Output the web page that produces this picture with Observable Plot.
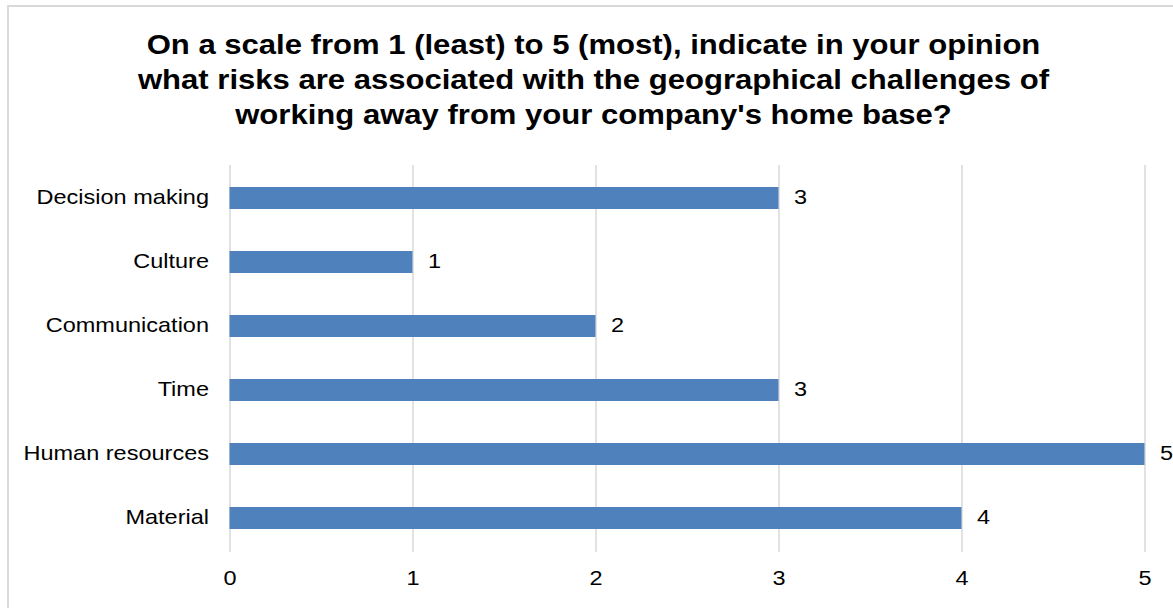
<!DOCTYPE html>
<html>
<head>
<meta charset="utf-8">
<script src="https://cdn.jsdelivr.net/npm/d3@7"></script>
<script src="https://cdn.jsdelivr.net/npm/@observablehq/plot@0.6"></script>
<style>
  html, body { margin: 0; padding: 0; background: #fff; overflow: hidden; width: 1173px; height: 608px; }
  #frame { position: absolute; left: 7px; top: 5px; width: 1200px; height: 700px; border: 2px solid #d9d9d9; box-sizing: border-box; }
  #title { position: absolute; left: 7px; width: 1173px; top: 28px; text-align: center; font-family: "Liberation Sans", Arial, sans-serif; font-weight: bold; font-size: 27px; line-height: 35px; color: #000; transform: scaleX(1.15); transform-origin: 50% 50%; }
  #chart { position: absolute; left: 0; top: 150px; }
</style>
</head>
<body>
<div id="frame"></div>
<div id="title">On a scale from 1 (least) to 5 (most), indicate in your opinion<br>what risks are associated with the geographical challenges of<br>working away from your company's home base?</div>
<div id="chart"></div>
<script>
const categories = ["Decision making", "Culture", "Communication", "Time", "Human resources", "Material"];
const values = [3, 1, 2, 3, 5, 4];
const xTicks = [0, 1, 2, 3, 4, 5];

const data = categories.map((c, i) => ({category: c, value: values[i]}));

const chart = Plot.plot({
  width: 1173,
  height: 458,
  marginLeft: 229.5,
  marginRight: 28.5,
  marginTop: 15,
  marginBottom: 56,
  style: { fontFamily: "'Liberation Sans', Arial, sans-serif", fontSize: "21px", color: "#000", background: "transparent" },
  x: { domain: [0, 5], ticks: xTicks, tickFormat: d => String(d) },
  y: { domain: categories, paddingInner: 0.65, paddingOuter: 0.325 },
  marks: [
    Plot.ruleX(xTicks, { stroke: "#d9d9d9", strokeWidth: 1.5 }),
    Plot.barX(data, { x: "value", y: "category", fill: "#4f81bd" }),
    Plot.text(data, { x: "value", y: "category", text: d => String(d.value), textAnchor: "start", dx: 15, dy: -1, fontSize: 21, fill: "#000" }),
    Plot.axisX({ ticks: xTicks, tickSize: 0, tickPadding: 18, fontSize: 21, label: null, tickFormat: d => String(d) }),
    Plot.axisY({ tickSize: 0, tickPadding: 21, fontSize: 21, label: null, dy: -1 })
  ]
});

document.getElementById("chart").appendChild(chart);

// Widen glyphs horizontally (reference text is horizontally stretched), keeping each anchor point fixed
const S = 1.12;
d3.select(chart).selectAll("text").each(function() {
  const b = this.getBBox();
  const anchor = getComputedStyle(this).textAnchor;
  const ax = anchor === "end" ? b.x + b.width : anchor === "middle" ? b.x + b.width / 2 : b.x;
  const tr = this.getAttribute("transform") || "";
  this.setAttribute("transform", `${tr} translate(${ax},0) scale(${S},1) translate(${-ax},0)`);
});
</script>
</body>
</html>
